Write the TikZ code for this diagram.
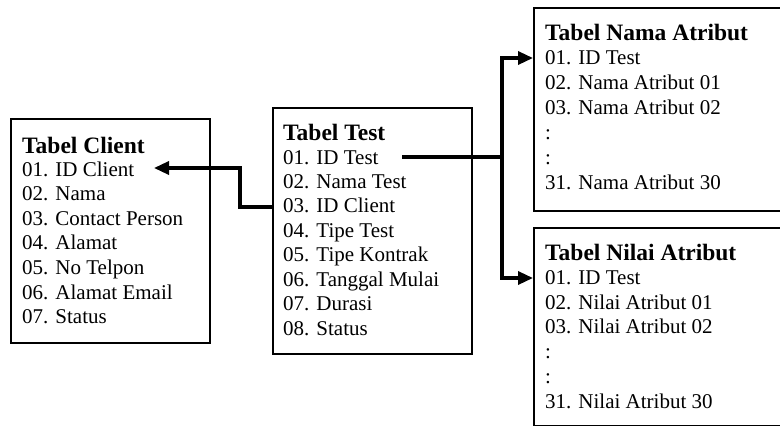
\documentclass[tikz,border=0pt]{standalone}
\usepackage{fontspec}
\setmainfont{Liberation Serif}
\usetikzlibrary{arrows.meta}
\begin{document}
\begin{tikzpicture}[x=1pt,y=-1pt,
  tbox/.style={draw,line width=1.8pt,rectangle,inner sep=0pt,anchor=north west},
  ttl/.style={anchor=base west,inner sep=0pt,font=\bfseries\fontsize{23.5}{28}\selectfont},
  row/.style={anchor=base west,inner sep=0pt,font=\fontsize{21}{24}\selectfont},
  conn/.style={line width=3.3pt},
  tip/.style={-{Triangle[length=15pt,width=13pt]}}]
\useasboundingbox (0,0) rectangle (780,426);
\clip (0,0) rectangle (780,426);
% boxes
\node[tbox,minimum width=199pt,minimum height=224pt] (client) at (10,118) {};
\node[tbox,minimum width=199pt,minimum height=246pt] (test) at (272,107) {};
\node[tbox,minimum width=260pt,minimum height=203pt] (nama) at (533,7) {};
\node[tbox,minimum width=260pt,minimum height=198pt] (nilai) at (533,227) {};
% texts
\node[ttl] (client-t) at (22,153) {Tabel Client};
\foreach \t [count=\i] in {01. ID Client,02. Nama,03. Contact Person,04. Alamat,05. No Telpon,06. Alamat Email,07. Status}
  \node[row] (client-\i) at (22,{176+24.6*(\i-1)}) {\t};
\node[ttl] (test-t) at (283,140) {Tabel Test};
\foreach \t [count=\i] in {01. ID Test,02. Nama Test,03. ID Client,04. Tipe Test,05. Tipe Kontrak,06. Tanggal Mulai,07. Durasi,08. Status}
  \node[row] (test-\i) at (283,{164+24.45*(\i-1)}) {\t};
\node[ttl] (nama-t) at (545,40) {Tabel Nama Atribut};
\foreach \t [count=\i] in {01. ID Test,02. Nama Atribut 01,03. Nama Atribut 02,:,:,31. Nama Atribut 30}
  \node[row] (nama-\i) at (545,{64.3+25*(\i-1)}) {\t};
\node[ttl] (nilai-t) at (545,260) {Tabel Nilai Atribut};
\foreach \t [count=\i] in {01. ID Test,02. Nilai Atribut 01,03. Nilai Atribut 02,:,:,31. Nilai Atribut 30}
  \node[row] (nilai-\i) at (545,{284.3+24.8*(\i-1)}) {\t};
% connectors
\coordinate (cl-in) at (154,168);
\coordinate (bend) at (240,207);
\draw[conn,tip] (test.west |- bend) -- (bend) |- (cl-in);
\coordinate (tid) at (402,157);
\coordinate (bus) at (502,157);
\draw[conn] (tid) -- (bus);
\draw[conn,tip] (bus) |- (nama.west |- 0,58);
\draw[conn,tip] (bus) |- (nilai.west |- 0,278);
\end{tikzpicture}
\end{document}
